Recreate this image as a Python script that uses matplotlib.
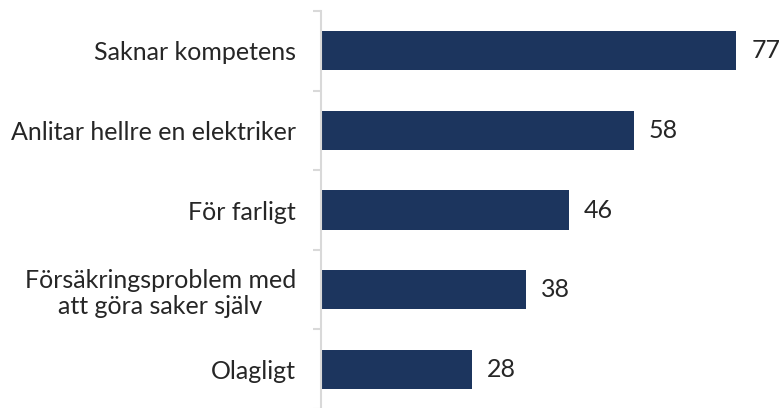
import matplotlib.pyplot as plt

# Data
categories = ['Saknar kompetens', 'Anlitar hellre en elektriker', 'För farligt',
              'Försäkringsproblem med\natt göra saker själv', 'Olagligt']
values = [77, 58, 46, 38, 28]

bar_color = '#1C355E'
axis_color = '#D9D9D9'
text_color = '#262626'

plt.rcParams['font.family'] = ['Lato', 'DejaVu Sans']

fig = plt.figure(figsize=(7.81, 4.08), dpi=100)
ax = fig.add_axes([321 / 781, -1 / 408, 460 / 781, 398 / 408])

pos = list(range(len(categories)))
bars = ax.barh(pos, values, height=0.49, color=bar_color)
ax.set_ylim(len(categories) - 0.5, -0.5)
ax.set_xlim(0, 460 / 5.39)

# value labels right of each bar
for b, v in zip(bars, values):
    ax.annotate(str(v), (b.get_width(), b.get_y() + b.get_height() / 2),
                xytext=(11, 0), textcoords='offset points',
                va='center', ha='left', fontsize=18, color=text_color)

# category labels, ticks sit between categories
ax.set_yticks(pos)
ax.set_yticklabels(categories, fontsize=18, color=text_color, multialignment='center')
ax.tick_params(axis='y', which='major', length=0, pad=18)
ax.set_yticks([p - 0.5 for p in pos] + [len(pos) - 0.5], minor=True)
ax.tick_params(axis='y', which='minor', length=6, width=1.5, color=axis_color)

ax.xaxis.set_visible(False)
for s in ['top', 'right', 'bottom']:
    ax.spines[s].set_visible(False)
ax.spines['left'].set_color(axis_color)
ax.spines['left'].set_linewidth(1.5)

fig.savefig('out.png', dpi=100)
